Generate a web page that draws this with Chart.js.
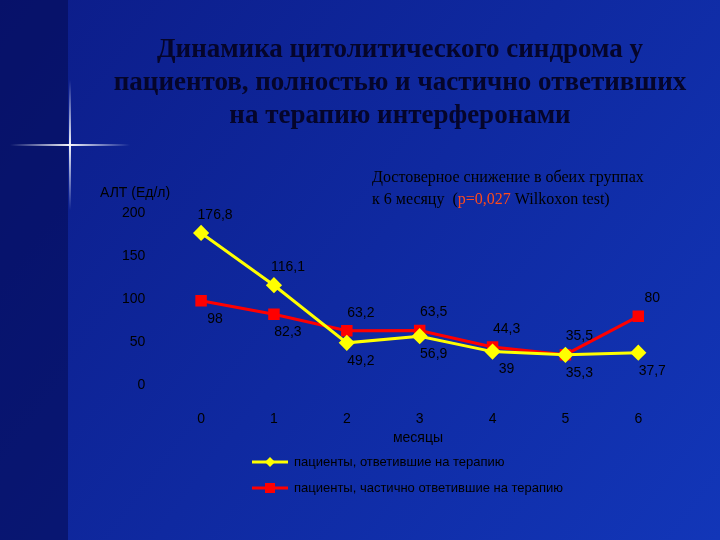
<!DOCTYPE html>
<html lang="ru">
<head>
<meta charset="UTF-8">
<title>Динамика цитолитического синдрома</title>
<script src="https://cdn.jsdelivr.net/npm/chart.js"></script>
<style>
  html, body { margin: 0; padding: 0; background: #0a1a8c; }
  #wrap { width: 720px; height: 540px; position: relative; }
</style>
</head>
<body>
<div id="wrap"><canvas id="chart" width="720" height="540"></canvas></div>
<script>
  const months = [0, 1, 2, 3, 4, 5, 6];
  const fullResp = [176.8, 116.1, 49.2, 56.9, 39, 35.3, 37.7];
  const partResp = [98, 82.3, 63.2, 63.5, 44.3, 35.5, 80];
  const yTicks = [0, 50, 100, 150, 200];
  const fullLabelPos = ['up', 'up', 'down', 'down', 'down', 'down', 'down'];
  const partLabelPos = ['down', 'down', 'up', 'up', 'up', 'up', 'up'];
  const titleLines = ['Динамика цитолитического синдрома у',
    'пациентов, полностью и частично ответивших',
    'на терапию интерферонами'];
  const legendNames = ['пациенты, ответившие на терапию',
    'пациенты, частично ответившие на терапию'];

  const fmt = v => String(v).replace('.', ',');

  const decor = {
    id: 'decor',
    beforeDraw(c) {
      const ctx = c.ctx;
      const g = ctx.createLinearGradient(0, 0, 720, 540);
      g.addColorStop(0, '#0c1c88');
      g.addColorStop(1, '#1236b8');
      ctx.fillStyle = g;
      ctx.fillRect(0, 0, 720, 540);
      ctx.fillStyle = 'rgba(4,10,80,0.55)';
      ctx.fillRect(0, 0, 68, 540);
      // flare
      ctx.save();
      let lg = ctx.createLinearGradient(10, 145, 130, 145);
      lg.addColorStop(0, 'rgba(255,255,255,0)');
      lg.addColorStop(0.5, 'rgba(255,255,255,0.95)');
      lg.addColorStop(1, 'rgba(255,255,255,0)');
      ctx.fillStyle = lg; ctx.fillRect(10, 144, 120, 2);
      lg = ctx.createLinearGradient(70, 80, 70, 210);
      lg.addColorStop(0, 'rgba(255,255,255,0)');
      lg.addColorStop(0.5, 'rgba(255,255,255,0.95)');
      lg.addColorStop(1, 'rgba(255,255,255,0)');
      ctx.fillStyle = lg; ctx.fillRect(69, 80, 2, 130);
      ctx.restore();
    },
    afterDraw(c) {
      const ctx = c.ctx;
      ctx.save();
      ctx.fillStyle = '#05052a';
      ctx.textAlign = 'center';
      ctx.textBaseline = 'middle';
      ctx.font = 'bold 27px "Liberation Serif"';
      titleLines.forEach((t, i) => ctx.fillText(t, 400, 50 + i * 33));

      ctx.font = '14px "Liberation Sans"';
      ctx.fillStyle = '#000';
      ctx.textAlign = 'left';
      ctx.fillText('АЛТ (Ед/л)', 100, 193);
      ctx.textAlign = 'center';
      ctx.fillText('месяцы', 418, 438);

      // annotation
      ctx.textAlign = 'left';
      ctx.font = '16px "Liberation Serif"';
      ctx.fillText('Достоверное снижение в обеих группах', 372, 178);
      let x = 372;
      const parts = [['к 6 месяцу  (', '#000'], ['р=0,027', '#ff4a1a'], [' Wilkoxon test)', '#000']];
      parts.forEach(([t, col]) => { ctx.fillStyle = col; ctx.fillText(t, x, 200); x += ctx.measureText(t).width; });

      // data labels
      ctx.fillStyle = '#000';
      ctx.font = '14px "Liberation Sans"';
      ctx.textAlign = 'center';
      [[0, fullLabelPos], [1, partLabelPos]].forEach(([di, pos]) => {
        c.getDatasetMeta(di).data.forEach((p, i) => {
          const dy = pos[i] === 'up' ? -18 : 18;
          ctx.fillText(fmt(c.data.datasets[di].data[i]), p.x + 14, p.y + dy);
        });
      });

      // legend
      ctx.font = '13px "Liberation Sans"';
      ctx.textAlign = 'left';
      c.data.datasets.forEach((ds, i) => {
        const y = 462 + i * 26;
        ctx.strokeStyle = ds.borderColor; ctx.lineWidth = 3;
        ctx.beginPath(); ctx.moveTo(252, y); ctx.lineTo(288, y); ctx.stroke();
        ctx.fillStyle = ds.backgroundColor;
        if (i === 0) {
          ctx.beginPath(); ctx.moveTo(270, y - 5); ctx.lineTo(275, y); ctx.lineTo(270, y + 5); ctx.lineTo(265, y); ctx.fill();
        } else ctx.fillRect(265, y - 5, 10, 10);
        ctx.fillStyle = '#000';
        ctx.fillText(legendNames[i], 294, y);
      });
      ctx.restore();
    }
  };

  new Chart(document.getElementById('chart'), {
    type: 'line',
    data: {
      labels: months,
      datasets: [
        { data: fullResp, borderColor: '#ffff00', backgroundColor: '#ffff00', borderWidth: 3,
          pointStyle: 'rectRot', pointRadius: 6, pointHoverRadius: 6, tension: 0 },
        { data: partResp, borderColor: '#ff0000', backgroundColor: '#ff0000', borderWidth: 3,
          pointStyle: 'rect', pointRadius: 6, pointHoverRadius: 6, tension: 0 }
      ]
    },
    options: {
      responsive: false,
      animation: false,
      layout: { padding: { top: 213, bottom: 94, left: 118, right: 38 } },
      plugins: { legend: { display: false }, tooltip: { enabled: false } },
      scales: {
        x: {
          type: 'linear', min: -0.6, max: 6.6,
          afterBuildTicks: s => { s.ticks = months.map(v => ({ value: v })); },
          grid: { display: false }, border: { display: false },
          ticks: { color: '#000', font: { family: 'Liberation Sans', size: 14 }, padding: 18 }
        },
        y: {
          min: 0, max: 200,
          afterBuildTicks: s => { s.ticks = yTicks.map(v => ({ value: v })); },
          grid: { display: false }, border: { display: false },
          ticks: { color: '#000', font: { family: 'Liberation Sans', size: 14 }, padding: 4 }
        }
      }
    },
    plugins: [decor]
  });
</script>
</body>
</html>
